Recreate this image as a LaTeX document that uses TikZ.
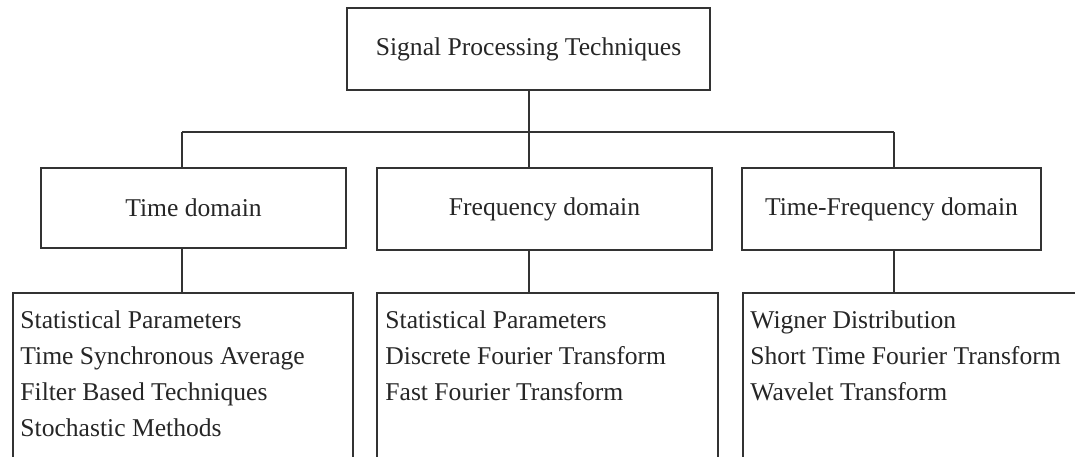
\documentclass[tikz,border=0pt]{standalone}
\usepackage{fontspec}
\setmainfont{Liberation Serif}
\begin{document}
\begin{tikzpicture}[x=0.5pt,y=-0.5pt,
  box/.style={draw=black!80, line width=1pt, inner sep=0pt, text=black!85, font=\fontsize{12.8}{18}\selectfont},
  listbox/.style={draw=black!80, line width=1pt, inner sep=0pt, anchor=north west, minimum height=95pt},
  listtext/.style={anchor=north west, inner sep=0pt, align=left, text=black!85, font=\fontsize{12.8}{18}\selectfont},
  link/.style={draw=black!80, line width=1pt}]
\useasboundingbox (0,0) rectangle (1075,456);
\clip (0,0) rectangle (1075,456);
% top level
\node[box, minimum width=181.5pt, minimum height=41pt] (top) at (528.5,49) {Signal Processing Techniques};
% domains
\node[box, minimum width=152.5pt, minimum height=40pt] (time) at (193.5,208) {Time domain};
\node[box, minimum width=167.5pt, minimum height=41pt] (freq) at (544.5,209) {Frequency domain};
\node[box, minimum width=149.5pt, minimum height=41pt] (tf) at (891.5,209) {Time-Frequency domain};
% method lists
\node[listbox, minimum width=170pt] (timelist) at (12,292) {};
\node[listbox, minimum width=170.5pt] (freqlist) at (376,292) {};
\node[listbox, minimum width=174pt] (tflist) at (742,292) {};
\node[listtext] (timetext) at (20,310) {Statistical Parameters\\Time Synchronous Average\\Filter Based Techniques\\Stochastic Methods};
\node[listtext] (freqtext) at (385,310) {Statistical Parameters\\Discrete Fourier Transform\\Fast Fourier Transform};
\node[listtext] (tftext) at (750,310) {Wigner Distribution\\Short Time Fourier Transform\\Wavelet Transform};
% connectors
\coordinate (busL) at (182,132);
\coordinate (busR) at (894,132);
\draw[link] (top.south) -- (top.south |- busL);
\draw[link] (busL) -- (busR);
\draw[link] (busL) -- (busL |- time.north);
\draw[link] (top.south |- busL) -- (top.south |- freq.north);
\draw[link] (busR) -- (busR |- tf.north);
\draw[link] (busL |- time.south) -- (busL |- timelist.north);
\draw[link] (top.south |- freq.south) -- (top.south |- freqlist.north);
\draw[link] (busR |- tf.south) -- (busR |- tflist.north);
\end{tikzpicture}
\end{document}
